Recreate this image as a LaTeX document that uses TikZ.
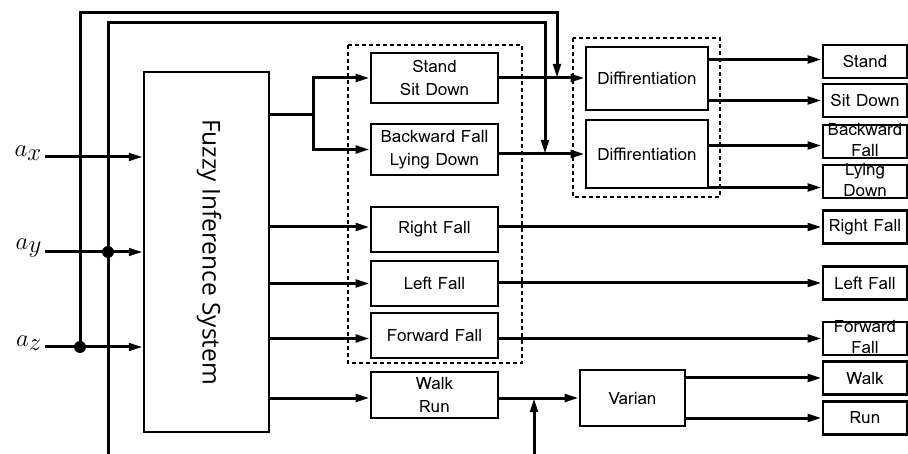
\documentclass[tikz,border=0pt]{standalone}
\usepackage{fontspec}
\newfontfamily\boxfont{Loma}
\newfontfamily\fisfont{Open Sans}
\usetikzlibrary{arrows.meta}

\tikzset{
  wire/.style={line width=3pt},
  arr/.style={wire,-{Triangle[length=14pt,width=7.5pt]}},
  blk/.style={draw,line width=2.6pt,inner sep=0pt,align=center,
    font=\boxfont\fontsize{17}{23}\selectfont},
  midbox/.style={blk,minimum width=127pt},
  diffbox/.style={blk,minimum width=122pt},
  outbox/.style={blk,minimum width=84pt,minimum height=33pt},
  outtext/.style={inner sep=0pt,align=center,font=\boxfont\fontsize{17}{21}\selectfont},
  grp/.style={draw,line width=2.4pt,dash pattern=on 4pt off 3pt},
  jdot/.style={circle,fill,inner sep=0pt,minimum size=12pt},
  inlabel/.style={anchor=east,inner sep=0pt,font=\fontsize{34}{34}\selectfont},
}

\begin{document}
\begin{tikzpicture}[x=1pt,y=-1pt]
\useasboundingbox (0,0) rectangle (908,454);

% fuzzy inference block
\node[draw,line width=2.4pt,minimum width=125pt,minimum height=360pt,inner sep=0pt] (fis) at (206.5,252) {};
\node[rotate=-90,font=\fisfont\fontsize{24.5}{24.5}\selectfont] (fistext) at (209,252) {Fuzzy Inference System};

% first classification stage
\node[midbox,minimum height=50pt] (ss) at (434.5,78) {Stand\\Sit Down};
\node[midbox,minimum height=51pt] (bl) at (434.5,149.5) {Backward Fall\\Lying Down};
\node[midbox,minimum height=45pt] (rf) at (434.5,229.5) {Right Fall};
\node[midbox,minimum height=45pt] (lf) at (434.5,283.5) {Left Fall};
\node[midbox,minimum height=45pt] (ff) at (434.5,335.5) {Forward Fall};
\node[midbox,minimum height=46pt] (wr) at (434.5,395) {Walk\\Run};
\draw[grp] (348,45) rectangle (522,363);

% second stage
\node[diffbox,minimum height=63pt] (d1) at (647,78.5) {Diffirentiation};
\node[diffbox,minimum height=68pt] (d2) at (647,154) {Diffirentiation};
\draw[grp] (573,38) rectangle (720,197);
\node[blk,minimum width=105pt,minimum height=56pt] (var) at (632.5,398) {Varian};

% output classes
\node[outbox] (o1) at (865,61.5) {Stand};
\node[outbox] (o2) at (865,100.5) {Sit Down};
\node[outbox] (o3) at (865,141.5) {};
\node[outtext] (o3t) at (865,140) {Backward\\Fall};
\node[outbox] (o4) at (865,181.5) {};
\node[outtext] (o4t) at (865,180) {Lying\\Down};
\node[outbox] (o5) at (865,227) {Right Fall};
\node[outbox] (o6) at (865,283) {Left Fall};
\node[outbox] (o7) at (865,338.5) {};
\node[outtext] (o7t) at (865,337) {Forward\\Fall};
\node[outbox] (o8) at (865,378) {Walk};
\node[outbox] (o9) at (865,418) {Run};

% accelerometer inputs
\node[inlabel] (lax) at (42,153) {$a_x$};
\node[inlabel] (lay) at (42,248) {$a_y$};
\node[inlabel] (laz) at (42,343) {$a_z$};
\coordinate (ix) at (45,157);
\coordinate (iy) at (45,252);
\coordinate (iz) at (45,347);
\draw[arr] (ix) -- (ix -| fis.west);
\draw[arr] (iy) -- (iy -| fis.west);
\draw[arr] (iz) -- (iz -| fis.west);

% feedback taps to the differentiation stage
\coordinate (vz) at (80,13);
\coordinate (vy) at (108,23);
\coordinate (vyb) at (108,460);
\coordinate (t1) at (557,13);
\coordinate (t2) at (545,23);
\draw[arr] (vz |- iz) -- (vz) -- (t1) -- (t1 |- ss.east);
\draw[arr] (vyb) -- (vy) -- (t2) -- (t2 |- d2.west);
\node[jdot] (jz) at (vz |- iz) {};
\node[jdot] (jy) at (vy |- iy) {};

% fuzzy outputs
\coordinate (br) at (313,115);
\draw[wire] (fis.east |- br) -- (br);
\draw[arr] (br) |- (ss.west);
\draw[arr] (br) |- (bl.west);
\draw[arr] (fis.east |- o5.west) -- (rf.west |- o5.west);
\draw[arr] (fis.east |- lf.west) -- (lf.west);
\draw[arr] (fis.east |- o7.west) -- (ff.west |- o7.west);
\draw[arr] (fis.east |- var.west) -- (wr.west |- var.west);

% into the second stage
\draw[arr] (ss.east) -- (ss.east -| d1.west);
\draw[arr] (bl.east |- d2.west) -- (d2.west);
\draw[arr] (wr.east |- var.west) -- (var.west);
\coordinate (vb) at (534,460);
\draw[arr] (vb) -- (vb |- var.west);

% to the output classes
\draw[arr] ([yshift=2pt]d1.east |- o1.west) -- ([yshift=2pt]o1.west);
\draw[arr] (d1.east |- o2.west) -- (o2.west);
\draw[arr] ([yshift=-4pt]d2.east |- o3.west) -- ([yshift=-4pt]o3.west);
\draw[arr] ([yshift=-6pt]d2.east |- o4.west) -- ([yshift=-6pt]o4.west);
\draw[arr] (rf.east |- o5.west) -- (o5.west);
\draw[arr] (lf.east |- o6.west) -- (o6.west);
\draw[arr] (ff.east |- o7.west) -- (o7.west);
\draw[arr] (var.east |- o8.west) -- (o8.west);
\draw[arr] (var.east |- o9.west) -- (o9.west);
\end{tikzpicture}
\end{document}
